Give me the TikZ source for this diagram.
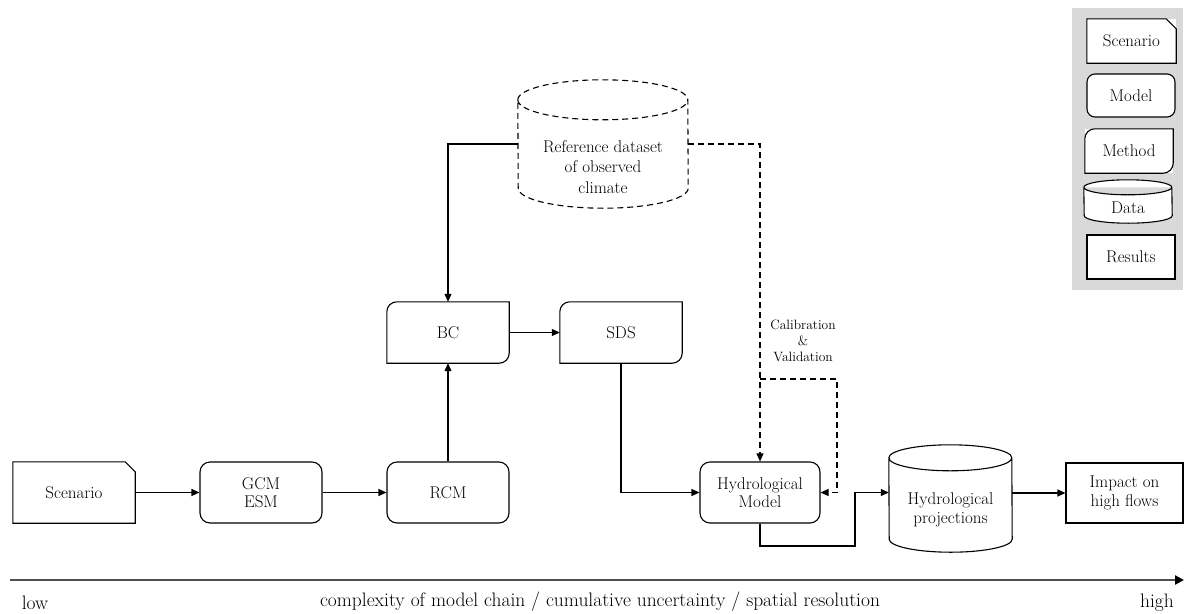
\documentclass[tikz,border=0pt]{standalone}
\usetikzlibrary{arrows.meta,calc}
\definecolor{legendgray}{HTML}{D9D9D9}
\definecolor{axisgray}{HTML}{505050}
\newcommand\mf{\fontsize{17}{18.5}\selectfont}
\newcommand\smallfnt{\fontsize{13.5}{16}\selectfont}
\newcommand\axfnt{\fontsize{19.5}{22}\selectfont}
\newcommand\scenpath[1]{\draw[outline] (#1.south west) -- (#1.north west) -- ([xshift=-10pt]#1.north east) -- ([yshift=-10pt]#1.north east) -- (#1.south east) -- cycle;}
\newcommand\methpath[1]{\draw[outline] ([yshift=-10pt]#1.north west) arc[start angle=180,end angle=90,radius=10pt] -- (#1.north east) -- ([yshift=10pt]#1.south east) arc[start angle=0,end angle=-90,radius=10pt] -- (#1.south west) -- cycle;}
\newcommand\cylpath[4][]{\draw[outline,#1] ([yshift=-#4]#2.north west) arc[start angle=180,end angle=0,x radius=#3,y radius=#4] -- ([yshift=#4]#2.south east) arc[start angle=0,end angle=-180,x radius=#3,y radius=#4] -- cycle ([yshift=-#4]#2.north west) arc[start angle=180,end angle=360,x radius=#3,y radius=#4];}
\tikzset{
  outline/.style={line width=1.1pt},
  blank/.style={minimum width=122pt, minimum height=61pt, inner sep=0pt, align=center, font=\mf},
  modelbox/.style={blank, draw, rounded corners=10pt, outline},
  resbox/.style={blank, draw, outline},
  txt/.style={inner sep=0pt, align=center, font=\mf},
  arr/.style={-{Triangle[length=8pt,width=7pt]}, line width=1.1pt},
  dsh/.style={dash pattern=on 6pt off 4pt},
}
\begin{document}
\begin{tikzpicture}[x=1pt,y=-1pt]
\useasboundingbox (0,0) rectangle (1185,613);
% legend
\fill[legendgray] (1072,8) rectangle (1183,290);
\node[blank, minimum width=89pt, minimum height=44pt, fill=white] (lscen) at (1131.5,41) {Scenario};
\scenpath{lscen}
\node[modelbox, minimum width=88pt, minimum height=43pt, fill=white, rounded corners=8pt] (lmodel) at (1131,95.5) {Model};
\node[blank, minimum width=88pt, minimum height=44pt, fill=white] (lmeth) at (1129,151) {Method};
\methpath{lmeth}
\node[blank, minimum width=88pt, minimum height=43pt] (ldata) at (1128,201.5) {};
\cylpath[fill=white]{ldata}{44pt}{7.5pt}
\node[txt] (ldatat) at (1128,208) {Data};
\node[resbox, minimum width=88pt, minimum height=44pt, fill=white] (lres) at (1131,257) {Results};

% main nodes
\node[blank] (scen) at (74,492.5) {Scenario};
\scenpath{scen}
\node[modelbox] (gcm) at (261,492.5) {GCM\\ESM};
\node[modelbox] (rcm) at (448,492.5) {RCM};
\node[blank] (bc) at (448,332.5) {BC};
\methpath{bc}
\node[blank] (sds) at (621,332.5) {SDS};
\methpath{sds}
\node[modelbox, minimum width=120pt] (hm) at (760,492.5) {Hydrological\\Model};
\node[blank, minimum width=123pt, minimum height=107pt] (hp) at (950.5,498.5) {};
\cylpath{hp}{61.5pt}{13pt}
\node[txt] (hpt) at (950.5,510) {Hydrological\\projections};
\node[resbox, minimum width=117pt, minimum height=60pt] (imp) at (1124.5,493) {Impact on\\high flows};
\node[blank, minimum width=170pt, minimum height=128pt] (ref) at (603,144) {};
\cylpath[dsh]{ref}{85pt}{20pt}
\node[txt, font=\fontsize{17}{20.5}\selectfont] (reft) at (603,167) {Reference dataset\\of observed\\climate};
\node[txt, font=\smallfnt] (cal) at (803,341) {Calibration\\\&\\Validation};

% connectors
\draw[arr] (scen.east) -- (gcm.west);
\draw[arr] (gcm.east) -- (rcm.west);
\draw[arr] (rcm.north) -- (bc.south);
\draw[arr] (bc.east) -- (sds.west);
\draw[arr] (sds.south) |- (hm.west);
\draw[arr] (ref.west) -| (bc.north);
\draw[arr, dsh] (ref.east) -| (hm.north);
\coordinate (c0) at (760,379);
\coordinate (c1) at (837,379);
\draw[arr, dsh] (c0) -- (c1) |- (hm.east);
\coordinate (h2) at (855,546);
\draw[arr] (hm.south) |- (h2) |- (hp.west |- hm.east);
\draw[arr] (hp.east |- imp.west) -- (imp.west);

% axis
\coordinate (a0) at (10,580);
\coordinate (a1) at (1184,580);
\draw[axisgray, line width=2.2pt, -{Triangle[length=9pt,width=9pt,color=black]}] (a0) -- (a1);
\node[txt, font=\axfnt, anchor=base] (low) at (35,609) {low};
\node[txt, font=\axfnt, anchor=base] (high) at (1157,607) {high};
\node[txt, font=\axfnt, anchor=base] (axl) at (600,606) {complexity of model chain / cumulative uncertainty / spatial resolution};
\end{tikzpicture}
\end{document}
